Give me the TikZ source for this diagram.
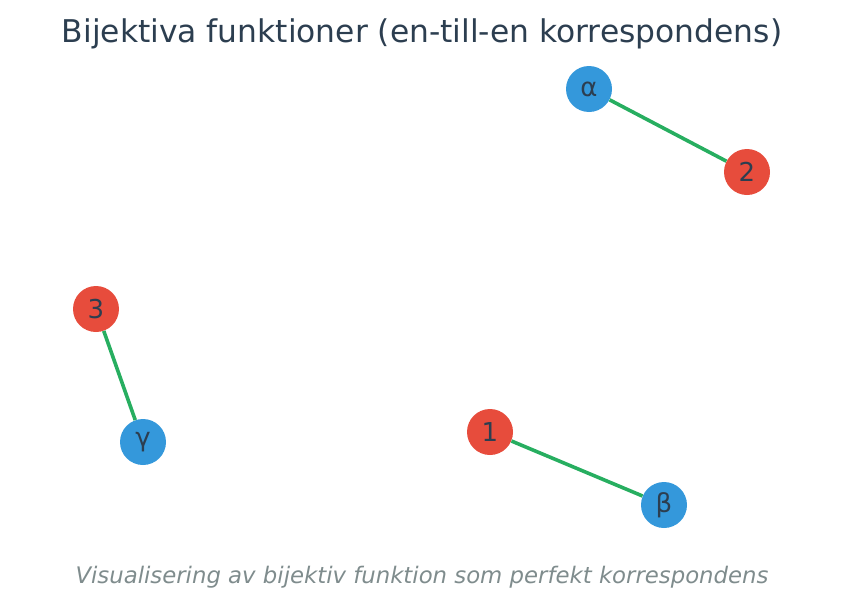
\documentclass[tikz,border=0pt]{standalone}
\usepackage{fontspec}
\setmainfont{DejaVu Sans}
\usepackage{tikz}
\usetikzlibrary{shapes, positioning}
\definecolor{darktext}{HTML}{2C3E50}
\definecolor{domblue}{HTML}{3498DB}
\definecolor{codred}{HTML}{E74C3C}
\definecolor{mapgreen}{HTML}{27AE60}
\definecolor{subgray}{HTML}{7F8C8D}
\tikzstyle{elem} = [circle, inner sep=0pt, minimum size=34.5pt,
    text=darktext, font=\fontsize{19.5}{20}\selectfont]
\tikzstyle{domelem} = [elem, fill=domblue]
\tikzstyle{codelem} = [elem, fill=codred]
\tikzstyle{pair} = [draw=mapgreen, line width=2.7pt]

\begin{document}
\begin{tikzpicture}[x=0.75pt, y=-0.75pt]
    \useasboundingbox (0,0) rectangle (843,607);
    \node [text=darktext, font=\fontsize{23.5}{26}\selectfont] (title) at (422,34) {Bijektiva funktioner (en-till-en korrespondens)};
    % the three pairs
    \node [domelem] (alpha) at (589,89) {α};
    \node [codelem] (two) at (747,172) {2};
    \node [codelem] (three) at (96,309) {3};
    \node [domelem] (gamma) at (143,442) {γ};
    \node [codelem] (one) at (490,432) {1};
    \node [domelem] (beta) at (664,505) {β};
    \draw [pair] (alpha) -- (two);
    \draw [pair] (three) -- (gamma);
    \draw [pair] (one) -- (beta);
    \node [text=subgray, font=\itshape\fontsize{17.1}{19}\selectfont] (caption) at (422,577) {Visualisering av bijektiv funktion som perfekt korrespondens};
\end{tikzpicture}
\end{document}
